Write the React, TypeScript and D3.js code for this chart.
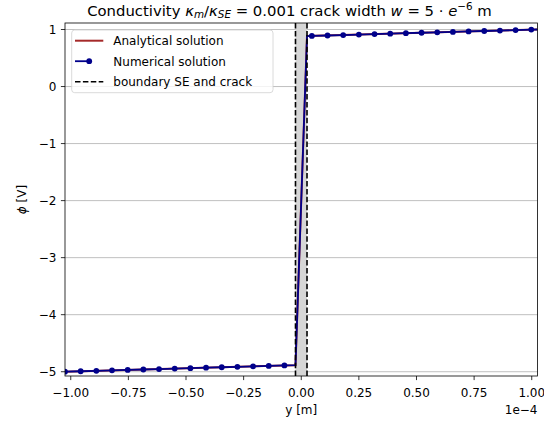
import React from "react";
import * as d3 from "d3";

// x in units of 1e-4 m
const analyticalX = [-1.025, -0.025, 0.025, 1.025];
const analyticalPhi = [-5.0, -4.885, 0.885, 1.0];

const numericalX = [
  -1.025, -0.957, -0.889, -0.821, -0.753, -0.685, -0.617, -0.549, -0.481, -0.413,
  -0.345, -0.277, -0.209, -0.141, -0.073, -0.025, 0.025, 0.046, 0.114, 0.182,
  0.25, 0.318, 0.386, 0.454, 0.522, 0.59, 0.658, 0.726, 0.794, 0.862, 0.93, 0.998, 1.025,
];
const numericalPhi = [
  -5.0, -4.992, -4.984, -4.976, -4.969, -4.961, -4.953, -4.945, -4.937, -4.929,
  -4.922, -4.914, -4.906, -4.898, -4.89, -4.885, 0.885, 0.887, 0.895, 0.903,
  0.911, 0.919, 0.927, 0.935, 0.943, 0.95, 0.958, 0.966, 0.974, 0.982, 0.99, 0.998, 1.0,
];

const crackBounds = [-0.025, 0.025];
const xTicks = [-1.0, -0.75, -0.5, -0.25, 0.0, 0.25, 0.5, 0.75, 1.0];
const yTicks = [1, 0, -1, -2, -3, -4, -5];
const legendLabels = ["Analytical solution", "Numerical solution", "boundary SE and crack"];

const W = 544;
const H = 428;
const L = 65, R = 537.5, T = 23, B = 376;
const FONT = "'DejaVu Sans', sans-serif";
const fs = 12;

const fmtX = (v: number) => (v < 0 ? "\u2212" : "") + Math.abs(v).toFixed(2);
const fmtY = (v: number) => (v < 0 ? "\u2212" : "") + Math.abs(v).toString();

export default function App() {
  const x = d3.scaleLinear().domain([-1.025, 1.025]).range([L, R]);
  const y = d3.scaleLinear().domain([-5.075, 1.114]).range([B, T]);

  const line = d3
    .line<[number, number]>()
    .x((d) => x(d[0]))
    .y((d) => y(d[1]));

  const anaPts = analyticalX.map((v, i) => [v, analyticalPhi[i]] as [number, number]);
  const numPts = numericalX.map((v, i) => [v, numericalPhi[i]] as [number, number]);
  const markerPts = numPts.filter((d) => Math.abs(d[0]) > 0.03 && d[0] < 1.02);

  const legX = 71.7, legY = 30, legW = 201.3, legH = 62.7;
  const rowY = [40.7, 61.2, 81.7];

  return (
    <svg width={W} height={H} style={{ position: "absolute", left: 0, top: 0 }} fontFamily={FONT}>
      <defs>
        <clipPath id="axclip">
          <rect x={L} y={T} width={R - L} height={B - T} />
        </clipPath>
      </defs>
      <rect x={0} y={0} width={W} height={H} fill="#fff" />
      {/* grid */}
      {yTicks.map((t) => (
        <line key={"g" + t} x1={L} x2={R} y1={y(t)} y2={y(t)} stroke="#b0b0b0" strokeWidth={0.8} />
      ))}
      <g clipPath="url(#axclip)">
        <rect
          x={x(crackBounds[0])}
          y={T}
          width={x(crackBounds[1]) - x(crackBounds[0])}
          height={B - T}
          fill="#d6d6d6"
        />
        <path d={line(anaPts) || ""} fill="none" stroke="#a52a2a" strokeWidth={2} />
        <path d={line(numPts) || ""} fill="none" stroke="darkblue" strokeWidth={1.8} />
        {markerPts.map((d, i) => (
          <circle key={i} cx={x(d[0])} cy={y(d[1])} r={2.9} fill="darkblue" />
        ))}
        {crackBounds.map((c) => (
          <line
            key={"c" + c}
            x1={x(c)}
            x2={x(c)}
            y1={T}
            y2={B}
            stroke="#000"
            strokeWidth={1.6}
            strokeDasharray="5.5,2.4"
          />
        ))}
      </g>
      {/* spines */}
      <rect x={L} y={T} width={R - L} height={B - T} fill="none" stroke="#000" strokeWidth={0.8} />
      {/* x ticks */}
      {xTicks.map((t) => (
        <g key={"x" + t}>
          <line x1={x(t)} x2={x(t)} y1={B} y2={B + 4.1} stroke="#000" strokeWidth={0.8} />
          <text x={x(t)} y={396.5} fontSize={fs} textAnchor="middle" fill="#000">
            {fmtX(t)}
          </text>
        </g>
      ))}
      {/* y ticks */}
      {yTicks.map((t) => (
        <g key={"y" + t}>
          <line x1={L - 4.1} x2={L} y1={y(t)} y2={y(t)} stroke="#000" strokeWidth={0.8} />
          <text x={L - 8.5} y={y(t) + 4.3} fontSize={fs} textAnchor="end" fill="#000">
            {fmtY(t)}
          </text>
        </g>
      ))}
      {/* labels */}
      <text x={(L + R) / 2} y={414} fontSize={fs} textAnchor="middle">
        y [m]
      </text>
      <text x={R} y={414} fontSize={fs} textAnchor="end">
        1e{"\u2212"}4
      </text>
      <text
        transform={`translate(26,${(T + B) / 2}) rotate(-90)`}
        fontSize={fs}
        textAnchor="middle"
      >
        <tspan fontStyle="italic">{"\u03D5"}</tspan> [V]
      </text>
      {/* title */}
      <text x={289.5} y={15.5} fontSize={14.85} textAnchor="middle">
        Conductivity{" "}
        <tspan fontStyle="italic">κ</tspan>
        <tspan fontStyle="italic" fontSize={10.4} dy={2.6}>m</tspan>
        <tspan dy={-2.6}>/</tspan>
        <tspan fontStyle="italic">κ</tspan>
        <tspan fontStyle="italic" fontSize={10.4} dy={2.6}>SE</tspan>
        <tspan dy={-2.6}> = 0.001 crack width </tspan>
        <tspan fontStyle="italic">w</tspan>
        <tspan> = 5 · </tspan>
        <tspan fontStyle="italic">e</tspan>
        <tspan fontSize={10.4} dy={-5.8}>{"\u2212"}6</tspan>
        <tspan dy={5.8}> m</tspan>
      </text>
      {/* legend */}
      <rect
        x={legX}
        y={legY}
        width={legW}
        height={legH}
        rx={3}
        fill="#fff"
        fillOpacity={0.8}
        stroke="#d0d0d0"
        strokeWidth={0.8}
      />
      <line x1={75} x2={103.3} y1={rowY[0]} y2={rowY[0]} stroke="#a52a2a" strokeWidth={2} />
      <line x1={75} x2={89.2} y1={rowY[1]} y2={rowY[1]} stroke="darkblue" strokeWidth={1.8} />
      <circle cx={89.2} cy={rowY[1]} r={2.9} fill="darkblue" />
      <line
        x1={75}
        x2={103.3}
        y1={rowY[2]}
        y2={rowY[2]}
        stroke="#000"
        strokeWidth={1.5}
        strokeDasharray="5.5,2.4"
      />
      {legendLabels.map((lab, i) => (
        <text key={lab} x={113.3} y={rowY[i] + 4.3} fontSize={fs} fill="#000">
          {lab}
        </text>
      ))}
    </svg>
  );
}
